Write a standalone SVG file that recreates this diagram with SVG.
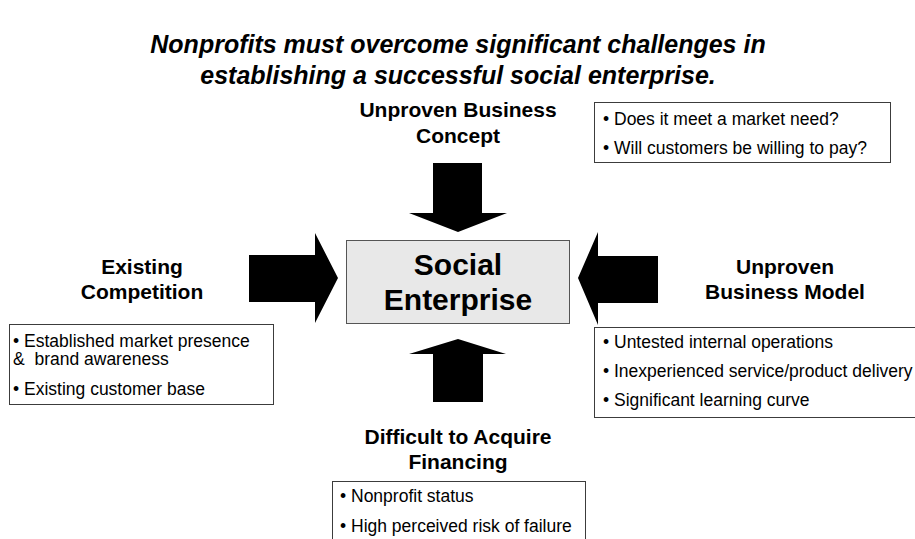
<svg xmlns="http://www.w3.org/2000/svg" width="915" height="539" viewBox="0 0 915 539">
  <style>
    .title { font-family: "Liberation Sans", Arial, sans-serif; font-size: 25px; font-weight: bold; font-style: italic; fill: #000; text-anchor: middle; }
    .label { font-family: "Liberation Sans", Arial, sans-serif; font-size: 21px; font-weight: bold; fill: #000; text-anchor: middle; }
    .core { font-family: "Liberation Sans", Arial, sans-serif; font-size: 30px; font-weight: bold; fill: #000; text-anchor: middle; }
    .item { font-family: "Liberation Sans", Arial, sans-serif; font-size: 17.5px; fill: #000; white-space: pre; }
    .box { fill: #fff; stroke: #3c3c3c; stroke-width: 1; }
    .arrow { fill: #000; }
  </style>

  <!-- heading -->
  <g id="title">
    <text class="title" x="458" y="53">Nonprofits must overcome significant challenges in</text>
    <text class="title" x="458" y="84">establishing a successful social enterprise.</text>
  </g>

  <!-- central node -->
  <g id="social-enterprise">
    <rect x="346.500" y="240.500" width="223" height="83" fill="#e8e8e8" stroke="#555" stroke-width="1"/>
    <text class="core" x="458" y="275">Social</text>
    <text class="core" x="458" y="310">Enterprise</text>
  </g>

  <!-- block arrows pointing at the central node -->
  <g id="connectors">
    <polygon class="arrow" points="433,163 482,163 482,213 507,213 458,232 409,213 433,213"/>
    <polygon class="arrow" points="433,402 483,402 483,354 506,354 458,339 409,354 433,354"/>
    <polygon class="arrow" points="249,255 315,255 315,233 338,278 315,323 315,302 249,302"/>
    <polygon class="arrow" points="658,256 598,256 598,232 578,278 598,325 598,303 658,303"/>
  </g>

  <!-- top: business concept -->
  <g id="concept">
    <text class="label" x="458" y="117">Unproven Business</text>
    <text class="label" x="458" y="143">Concept</text>
    <rect class="box" x="594.500" y="102.500" width="296" height="60"/>
    <text class="item" x="603" y="125">• Does it meet a market need?</text>
    <text class="item" x="603" y="154">• Will customers be willing to pay?</text>
  </g>

  <!-- left: competition -->
  <g id="competition">
    <text class="label" x="142" y="274">Existing</text>
    <text class="label" x="142" y="299">Competition</text>
    <rect class="box" x="9.500" y="324.500" width="264" height="80"/>
    <text class="item" x="13" y="347">• Established market presence</text>
    <text class="item" x="13" y="365">&amp;  brand awareness</text>
    <text class="item" x="13" y="395">• Existing customer base</text>
  </g>

  <!-- right: business model -->
  <g id="business-model">
    <text class="label" x="785" y="274">Unproven</text>
    <text class="label" x="785" y="299">Business Model</text>
    <rect class="box" x="594.500" y="327.500" width="322" height="90"/>
    <text class="item" x="603" y="348">• Untested internal operations</text>
    <text class="item" x="603" y="377">• Inexperienced service/product delivery</text>
    <text class="item" x="603" y="406">• Significant learning curve</text>
  </g>

  <!-- bottom: financing -->
  <g id="financing">
    <text class="label" x="458" y="444">Difficult to Acquire</text>
    <text class="label" x="458" y="469">Financing</text>
    <rect class="box" x="332.500" y="481.500" width="253" height="60"/>
    <text class="item" x="340" y="502">• Nonprofit status</text>
    <text class="item" x="340" y="532">• High perceived risk of failure</text>
  </g>
</svg>
